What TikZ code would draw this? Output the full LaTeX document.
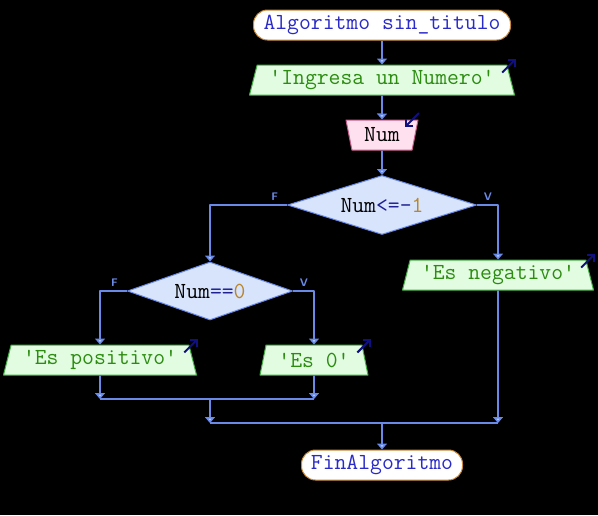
\documentclass[tikz,border=0pt]{standalone}
\usepackage{fontspec}
\usepackage{tikz}
\usetikzlibrary{arrows.meta,shapes.geometric}
\definecolor{flow}{HTML}{6A8AE8}
\definecolor{flowlt}{HTML}{B8CCF8}
\definecolor{termbd}{HTML}{C88A3A}
\definecolor{termtx}{HTML}{2A2AC8}
\definecolor{outbd}{HTML}{44B044}
\definecolor{outbg}{HTML}{E2FCE2}
\definecolor{outtx}{HTML}{2C8C10}
\definecolor{inbd}{HTML}{C8608C}
\definecolor{inbg}{HTML}{FFE0EE}
\definecolor{decbg}{HTML}{D8E4FC}
\definecolor{cmp}{HTML}{202090}
\definecolor{lit}{HTML}{B8862E}
\definecolor{iconc}{HTML}{101080}
\tikzset{fig/.style={line join=round,x=1pt,y=-1pt,font=\ttfamily\fontsize{23}{25}\selectfont},
  flowline/.style={flow,line width=1.8pt},
  link/.style={flowline,-{Triangle[width=10pt,length=6pt,fill=flowlt]}},
  term/.style={draw=termbd,fill=white,line width=1pt,rounded corners=14pt,minimum height=30pt,inner ysep=2pt,text=termtx},
  outbox/.style={trapezium,trapezium left angle=72,trapezium right angle=72,trapezium stretches body,
    draw=outbd,fill=outbg,line width=1pt,minimum height=30pt,inner sep=2pt,text=outtx},
  inbox/.style={outbox,shape border rotate=180,draw=inbd,fill=inbg,text=black},
  cond/.style={diamond,aspect=3.2,draw=flow,fill=decbg,line width=1pt,inner sep=0pt,text=black},
  tf/.style={font=\sffamily\bfseries\fontsize{11}{12}\selectfont,text=flow,inner sep=1pt},
  icon/.style={iconc,line width=2pt,-{Straight Barb[length=5pt,width=10pt]}}}

\begin{document}
\begin{tikzpicture}[fig]
  \fill[black](0,0)rectangle(598,515);
  \node[term,minimum width=257pt](start)at(382,25){Algoritmo sin\_titulo};
  \node[outbox,minimum width=265pt](ingresa)at(382,80){'Ingresa un Numero'};
  \node[inbox,minimum width=72pt](num)at(382,135){Num};
  \node[cond,minimum width=189pt,minimum height=59pt](d1)at(382,205){Num{\color{cmp}<=-}{\color{lit}1}};
  \node[outbox,minimum width=191pt](eneg)at(498,275){'Es negativo'};
  \node[cond,minimum width=165pt,minimum height=58pt](d2)at(210,291){Num{\color{cmp}==}{\color{lit}0}};
  \node[outbox,minimum width=193pt](epos)at(100,360){'Es positivo'};
  \node[outbox,minimum width=108pt](ecero)at(314,360){'Es 0'};
  \node[term,minimum width=161pt](fin)at(382,465){FinAlgoritmo};
  \coordinate(jl)at(100,399);
  \coordinate(jr)at(314,399);
  \coordinate(jm)at(210,399);
  \coordinate(kl)at(210,423);
  \coordinate(kr)at(498,423);
  \coordinate(km)at(382,423);
  % main line
  \draw[link](start)--(ingresa);
  \draw[link](ingresa)--(num);
  \draw[link](num)--(d1);
  \draw[link](d1.west)-|node[tf,pos=0.08,above=3pt](f1){F}(d2.north);
  \draw[link](d1.east)-|node[tf,pos=0.26,above=3pt](v1){V}(eneg.north);
  \draw[link](d2.west)-|node[tf,pos=0.23,above=3pt](f2){F}(epos.north);
  \draw[link](d2.east)-|node[tf,pos=0.26,above=3pt](v2){V}(ecero.north);
  % joins
  \draw[link](epos.south)--(jl);
  \draw[link](ecero.south)--(jr);
  \draw[flowline](jl)--(jr);
  \draw[link](jm)--(kl);
  \draw[link](eneg.south)--(kr);
  \draw[flowline](kl)--(kr);
  \draw[link](km)--(fin);
  % io marks
  \foreach \n in {ingresa,eneg,epos,ecero}
    \draw[icon]([shift={(-5,8)}]\n.top right corner)--([shift={(9,-6)}]\n.top right corner);
  \draw[icon]([shift={(37,-22)}]num.center)--([shift={(23,-8)}]num.center);
\end{tikzpicture}
\end{document}
